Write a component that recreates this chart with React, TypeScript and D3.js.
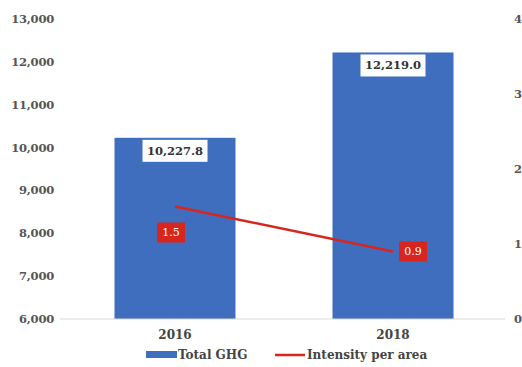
import React from "react";
import * as d3 from "d3";

const categories = ["2016", "2018"];
const totalGHG = [10227.8, 12219.0];
const intensity = [1.5, 0.9];
const leftTicks = [6000, 7000, 8000, 9000, 10000, 11000, 12000, 13000];
const rightTicks = [0, 1, 2, 3, 4];

export default function App() {
  const W = 522, H = 367;
  const top = 19, bottom = 319, left = 66, right = 502;
  const x = d3.scaleBand<string>().domain(categories).range([left, right]).paddingInner(0.445).paddingOuter(0.2225);
  const y = d3.scaleLinear().domain([6000, 13000]).range([bottom, top]);
  const y2 = d3.scaleLinear().domain([0, 4]).range([bottom, top]);
  const fmt = d3.format(",.1f");
  const fmtT = d3.format(",");
  const ff = { fontFamily: "'DejaVu Serif', serif" };
  const line = d3.line<number>().x((_, i) => x(categories[i])! + x.bandwidth() / 2).y(d => y2(d));
  const blue = "#3F6EBF";
  const red = "#D8261E";
  return (
    <svg width={W} height={H} style={{ position: "absolute", left: 0, top: 0, background: "#fff", ...ff }}>
      <rect width={W} height={H} fill="#fff" />
      {leftTicks.map(t => (
        <text key={t} style={ff} x={54} y={y(t)} dy="0.35em" textAnchor="end" fontSize={11.5} fontWeight="bold" fill="#555" letterSpacing={-0.2}>{fmtT(t)}</text>
      ))}
      {rightTicks.map(t => (
        <text key={t} style={ff} x={514} y={y2(t)} dy="0.35em" textAnchor="start" fontSize={11.5} fontWeight="bold" fill="#555">{t}</text>
      ))}
      {categories.map((c, i) => (
        <rect key={c} x={x(c)} y={y(totalGHG[i])} width={x.bandwidth()} height={bottom - y(totalGHG[i])} fill={blue} />
      ))}
      <line x1={60} x2={505} y1={bottom} y2={bottom} stroke="#d9d9d9" strokeWidth={1} />
      {categories.map((c, i) => {
        const cx = x(c)! + x.bandwidth() / 2;
        const ty = y(totalGHG[i]) + 13;
        return (
          <g key={c}>
            <rect x={cx - 32.5} y={ty - 11} width={65} height={22} fill="#fff" />
            <text style={ff} x={cx} y={ty} dy="0.35em" textAnchor="middle" fontSize={11.5} fontWeight="bold" fill="#333">{fmt(totalGHG[i])}</text>
            <text style={ff} x={cx} y={335} dy="0.35em" textAnchor="middle" fontSize={12} fontWeight="bold" fill="#444">{c}</text>
          </g>
        );
      })}
      <path d={line(intensity)!} fill="none" stroke={red} strokeWidth={2.5} />
      {categories.map((c, i) => {
        const cx = x(c)! + x.bandwidth() / 2;
        const py = y2(intensity[i]);
        const lx = i === 0 ? cx - 4 : cx + 20;
        const ly = i === 0 ? py + 26 : py;
        return (
          <g key={"l" + c}>
            <rect x={lx - 14} y={ly - 10} width={28} height={20} fill={red} />
            <text style={ff} x={lx} y={ly} dy="0.35em" textAnchor="middle" fontSize={11} fill="#fff">{intensity[i].toFixed(1)}</text>
          </g>
        );
      })}
      <rect x={146} y={351} width={31} height={7} fill={blue} />
      <text style={ff} x={178} y={355} dy="0.35em" fontSize={12} fontWeight="bold" fill="#444">Total GHG</text>
      <line x1={275} x2={305} y1={355} y2={355} stroke={red} strokeWidth={2.5} />
      <text style={ff} x={307} y={355} dy="0.35em" fontSize={12} fontWeight="bold" fill="#444">Intensity per area</text>
    </svg>
  );
}
